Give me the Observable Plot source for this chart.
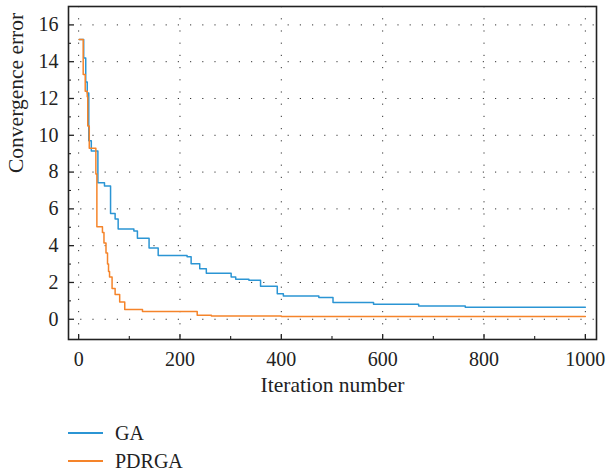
<!DOCTYPE html>
<html>
<head>
<meta charset="utf-8">
<script src="https://cdn.jsdelivr.net/npm/d3@7"></script>
<script src="https://cdn.jsdelivr.net/npm/@observablehq/plot@0.6"></script>
<style>
  html, body { margin: 0; padding: 0; background: #fff; }
  #chart svg { display: block; }
  .legend { font-family: "Liberation Serif", "Times New Roman", serif; font-size: 20px; color: #222; padding-left: 68px; margin-top: 14px; }
  .legend .row { display: flex; align-items: center; height: 28px; }
  .legend .sw { width: 35px; height: 0; border-top: 2px solid; margin-right: 12px; }
</style>
</head>
<body>
<div id="chart"></div>
<script>
// Data (iteration, convergence error), step-wise
const gaIter = [1, 10, 14, 17, 20, 25, 38, 51, 63, 72, 78, 109, 116, 139, 157, 214, 222, 239, 252, 301, 310, 336, 359, 392, 404, 474, 502, 582, 671, 763, 1000];
const gaErr  = [15.2, 14.2, 12.9, 12.3, 9.7, 9.15, 7.42, 7.25, 5.75, 5.45, 4.9, 4.8, 4.4, 3.88, 3.47, 3.4, 3.02, 2.75, 2.5, 2.3, 2.17, 2.12, 1.79, 1.39, 1.26, 1.18, 0.91, 0.81, 0.72, 0.65, 0.65];
const pdIter = [1, 9, 13, 17, 18, 21, 34, 36, 47, 50, 54, 57, 59, 61, 66, 72, 81, 91, 126, 234, 262, 400, 1000];
const pdErr  = [15.2, 13.3, 12.4, 12.1, 10.5, 9.3, 7.9, 5.03, 4.72, 4.15, 3.6, 3.0, 2.6, 2.3, 1.67, 1.34, 0.94, 0.53, 0.42, 0.22, 0.18, 0.15, 0.15];
const seriesNames = ["GA", "PDRGA"];
const seriesColors = ["#2b95d4", "#f5842a"];
const xMajor = [0, 200, 400, 600, 800, 1000];
const xMinor = [100, 300, 500, 700, 900];
const yMajor = [0, 2, 4, 6, 8, 10, 12, 14, 16];
const yMinor = [1, 3, 5, 7, 9, 11, 13, 15];

const W = 607, H = 405;
const mL = 68, mR = 11, mT = 6, mB = 66;
const fw = W - mL - mR, fh = H - mT - mB;

const ga = gaIter.map((x, i) => ({x, y: gaErr[i]}));
const pd = pdIter.map((x, i) => ({x, y: pdErr[i]}));

const font = '"Liberation Serif", "Times New Roman", serif';
const ink = "#222";

const chart = Plot.plot({
  width: W, height: H,
  marginLeft: mL, marginRight: mR, marginTop: mT, marginBottom: mB,
  style: {fontFamily: font, fontSize: "20px", color: ink, background: "#fff"},
  x: {domain: [-20, 1022], label: null},
  y: {domain: [-1.1, 17], label: null},
  marks: [
    Plot.gridX(xMajor, {stroke: "#333", strokeOpacity: 1, strokeWidth: 1, strokeDasharray: "1.2,11"}),
    Plot.gridY(yMajor, {stroke: "#333", strokeOpacity: 1, strokeWidth: 1, strokeDasharray: "1.2,11"}),
    Plot.line(ga, {x: "x", y: "y", curve: "step-after", stroke: seriesColors[0], strokeWidth: 1.5}),
    Plot.line(pd, {x: "x", y: "y", curve: "step-after", stroke: seriesColors[1], strokeWidth: 1.5}),
    Plot.tickY(yMajor, {y: d => d, insetRight: fw - 6, stroke: ink, strokeWidth: 1.3}),
    Plot.tickY(yMinor, {y: d => d, insetRight: fw - 3, stroke: ink, strokeWidth: 1.1}),
    Plot.tickX(xMajor, {x: d => d, insetTop: fh - 5, stroke: ink, strokeWidth: 1.3}),
    Plot.tickX(xMinor, {x: d => d, insetTop: fh - 3, stroke: ink, strokeWidth: 1.1}),
    Plot.axisY(yMajor, {tickSize: 0, tickPadding: 10, fontSize: 20, fill: ink, label: null, tickFormat: d => String(d)}),
    Plot.axisX(xMajor, {tickSize: 0, tickPadding: 12, fontSize: 20, fill: ink, label: null, tickFormat: d => String(d)}),
    Plot.frame({stroke: ink, strokeWidth: 1.6}),
    Plot.text(["Iteration number"], {frameAnchor: "bottom", dy: 52, text: d => d, fontSize: 21.5, fill: ink}),
    Plot.text(["Convergence error"], {frameAnchor: "left", dx: -52, rotate: -90, text: d => d, fontSize: 21.5, fill: ink})
  ]
});
document.getElementById("chart").appendChild(chart);

const legend = document.createElement("div");
legend.className = "legend";
seriesNames.forEach((name, i) => {
  const row = document.createElement("div");
  row.className = "row";
  const sw = document.createElement("span");
  sw.className = "sw";
  sw.style.borderTopColor = seriesColors[i];
  const label = document.createElement("span");
  label.textContent = name;
  row.appendChild(sw);
  row.appendChild(label);
  legend.appendChild(row);
});
document.body.appendChild(legend);
</script>
</body>
</html>
